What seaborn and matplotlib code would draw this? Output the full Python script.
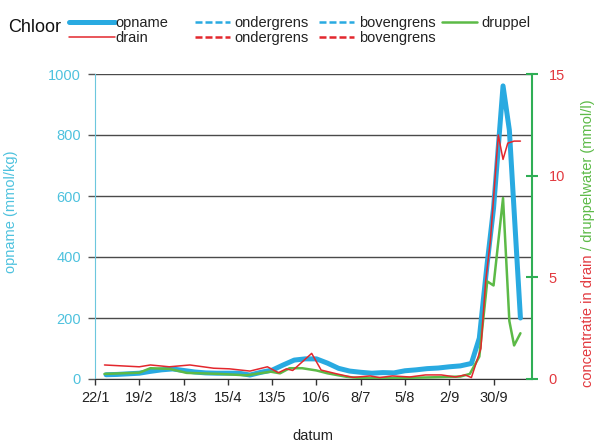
import matplotlib
matplotlib.use('Agg')
import matplotlib.pyplot as plt
from matplotlib.lines import Line2D
import seaborn as sns

# ================= data =================
tick_days = [0, 28, 56, 84, 112, 140, 168, 196, 224, 252]
tick_labels = ['22/1', '19/2', '18/3', '15/4', '13/5', '10/6', '8/7', '5/8', '2/9', '30/9']

# opname (mmol/kg), left axis
opname_days = [7, 14, 21, 28, 35, 42, 49, 56, 63, 70, 77, 84, 91, 98, 105, 112,
               119, 126, 133, 140, 147, 154, 161, 168, 175, 182, 189, 196, 203,
               210, 217, 224, 231, 238, 243, 248, 252, 258, 262, 269]
opname = [14, 15, 17, 19, 25, 30, 33, 28, 23, 20, 19, 19, 19, 13, 22, 29,
          46, 62, 66, 66, 52, 35, 26, 22, 19, 21, 20, 27, 30,
          34, 36, 40, 43, 51, 134, 380, 560, 961, 816, 200]

# drain (mmol/l), right axis
drain_days = [6, 28, 35, 47, 60, 75, 85, 98, 109, 116, 121, 125, 137, 143, 153,
              163, 174, 180, 188, 199, 209, 219, 228, 234, 238, 244, 247, 250,
              255, 258, 261, 265, 269]
drain = [0.69, 0.6, 0.69, 0.6, 0.69, 0.53, 0.5, 0.39, 0.6, 0.31, 0.5, 0.42, 1.26,
         0.44, 0.25, 0.08, 0.15, 0.07, 0.15, 0.1, 0.2, 0.2, 0.1, 0.2, 0.07, 1.5,
         4.8, 6.8, 12.0, 10.8, 11.6, 11.7, 11.7]

# druppel (mmol/l), right axis
druppel_days = [6, 28, 35, 47, 58, 79, 96, 111, 117, 123, 131, 140, 147, 159, 167,
                193, 212, 231, 237, 243, 248, 252, 258, 262, 265, 269]
druppel = [0.25, 0.31, 0.53, 0.5, 0.3, 0.25, 0.18, 0.36, 0.28, 0.53, 0.53, 0.42,
           0.28, 0.11, 0.05, 0.05, 0.08, 0.12, 0.25, 1.1, 4.8, 4.6, 8.9, 2.85,
           1.65, 2.25]
# ========================================

BLUE = '#29aae1'
RED = '#e3272d'
GREEN = '#5cba47'
CYAN_TXT = '#4ec2de'
GREEN_AX = '#2fae55'
RED_TXT = '#e2393f'

sns.set_style('white')
plt.rcParams['font.family'] = ['Liberation Sans', 'DejaVu Sans']

W, H = 597, 446
fig = plt.figure(figsize=(W / 100, H / 100), dpi=100)
ax = fig.add_axes([95 / W, 1 - 379 / H, (531.5 - 95) / W, (379 - 74) / H])
ax2 = ax.twinx()

sns.lineplot(x=opname_days, y=opname, ax=ax, color=BLUE, lw=3.6, legend=False)
sns.lineplot(x=druppel_days, y=druppel, ax=ax2, color=GREEN, lw=1.8, legend=False)
sns.lineplot(x=drain_days, y=drain, ax=ax2, color=RED, lw=1.1, legend=False)

ax.set_xlim(0, 276)
ax.set_ylim(0, 1000)
ax2.set_ylim(0, 15)
ax.set_xticks(tick_days)
ax.set_xticklabels(tick_labels)
ax.set_yticks([0, 200, 400, 600, 800, 1000])
ax2.set_yticks([0, 5, 10, 15])

ax.yaxis.grid(True, color='#4a4a4a', lw=1)
ax.xaxis.grid(False)
ax.set_axisbelow(True)

for s in ['top', 'right']:
    ax.spines[s].set_visible(False)
ax.spines['left'].set_color('#6cc7dd')
ax.spines['bottom'].set_color('#333333')
for s in ['top', 'left', 'bottom']:
    ax2.spines[s].set_visible(False)
ax2.spines['right'].set_color(GREEN_AX)
ax2.spines['right'].set_linewidth(1.5)

ax.tick_params(axis='y', direction='out', length=5, width=1, color='#555555',
               labelcolor=CYAN_TXT, labelsize=10.5, pad=5, left=True)
ax.tick_params(axis='x', direction='out', length=4, width=1, color='#333333',
               labelcolor='#222222', labelsize=10.5, pad=5, bottom=True)
ax2.tick_params(axis='y', direction='inout', length=9, width=1.5, color=GREEN_AX,
                labelcolor=RED_TXT, labelsize=10.5, pad=8, right=True)

ax.set_ylabel('opname (mmol/kg)', color=CYAN_TXT, fontsize=10.5)
ax.yaxis.set_label_coords(-0.176, 0.548)
ax.set_xlabel('datum', color='#222222', fontsize=10.5)
ax.xaxis.set_label_coords(0.5, -0.165)
ax2.set_ylabel('')

# two-coloured right label
fig.canvas.draw()
rend = fig.canvas.get_renderer()
t1 = fig.text(588 / W, 1 - 387 / H, 'concentratie in drain', rotation=90,
              ha='center', va='bottom', color=RED_TXT, fontsize=10.5)
bb = t1.get_window_extent(rend)
fig.text(588 / W, (bb.y1 + 4) / fig.bbox.height, '/ druppelwater (mmol/l)', rotation=90,
         ha='center', va='bottom', color=GREEN, fontsize=10.5)

# legend header
fig.text(8 / W, 1 - 32 / H, 'Chloor', fontsize=13, va='baseline', color='#111111')

leg_font = dict(family=['Liberation Sans Narrow', 'Liberation Sans'], size=10.5)
dash = (0, (2.8, 1.2))
columns = [
    (62, 3.1, 0.08, [Line2D([], [], color=BLUE, lw=3.6), Line2D([], [], color=RED, lw=1.1)],
     ['opname', 'drain']),
    (188, 2.4, 0.3, [Line2D([], [], color=BLUE, lw=1.8, ls=dash), Line2D([], [], color=RED, lw=1.8, ls=dash)],
     ['ondergrens', 'ondergrens']),
    (312, 2.4, 0.3, [Line2D([], [], color=BLUE, lw=1.8, ls=dash), Line2D([], [], color=RED, lw=1.8, ls=dash)],
     ['bovengrens', 'bovengrens']),
    (435, 2.4, 0.3, [Line2D([], [], color=GREEN, lw=1.8)], ['druppel']),
]
for x0, hl, tp, hs, labs in columns:
    lg = fig.legend(handles=hs, labels=labs, loc='upper left',
                    bbox_to_anchor=(x0 / W, 1 - 9 / H), frameon=False, borderpad=0,
                    handlelength=hl, handletextpad=tp, labelspacing=0.05, prop=leg_font)
    for t in lg.get_texts():
        t.set_color('#222222')

fig.savefig('out.png', dpi=100)
